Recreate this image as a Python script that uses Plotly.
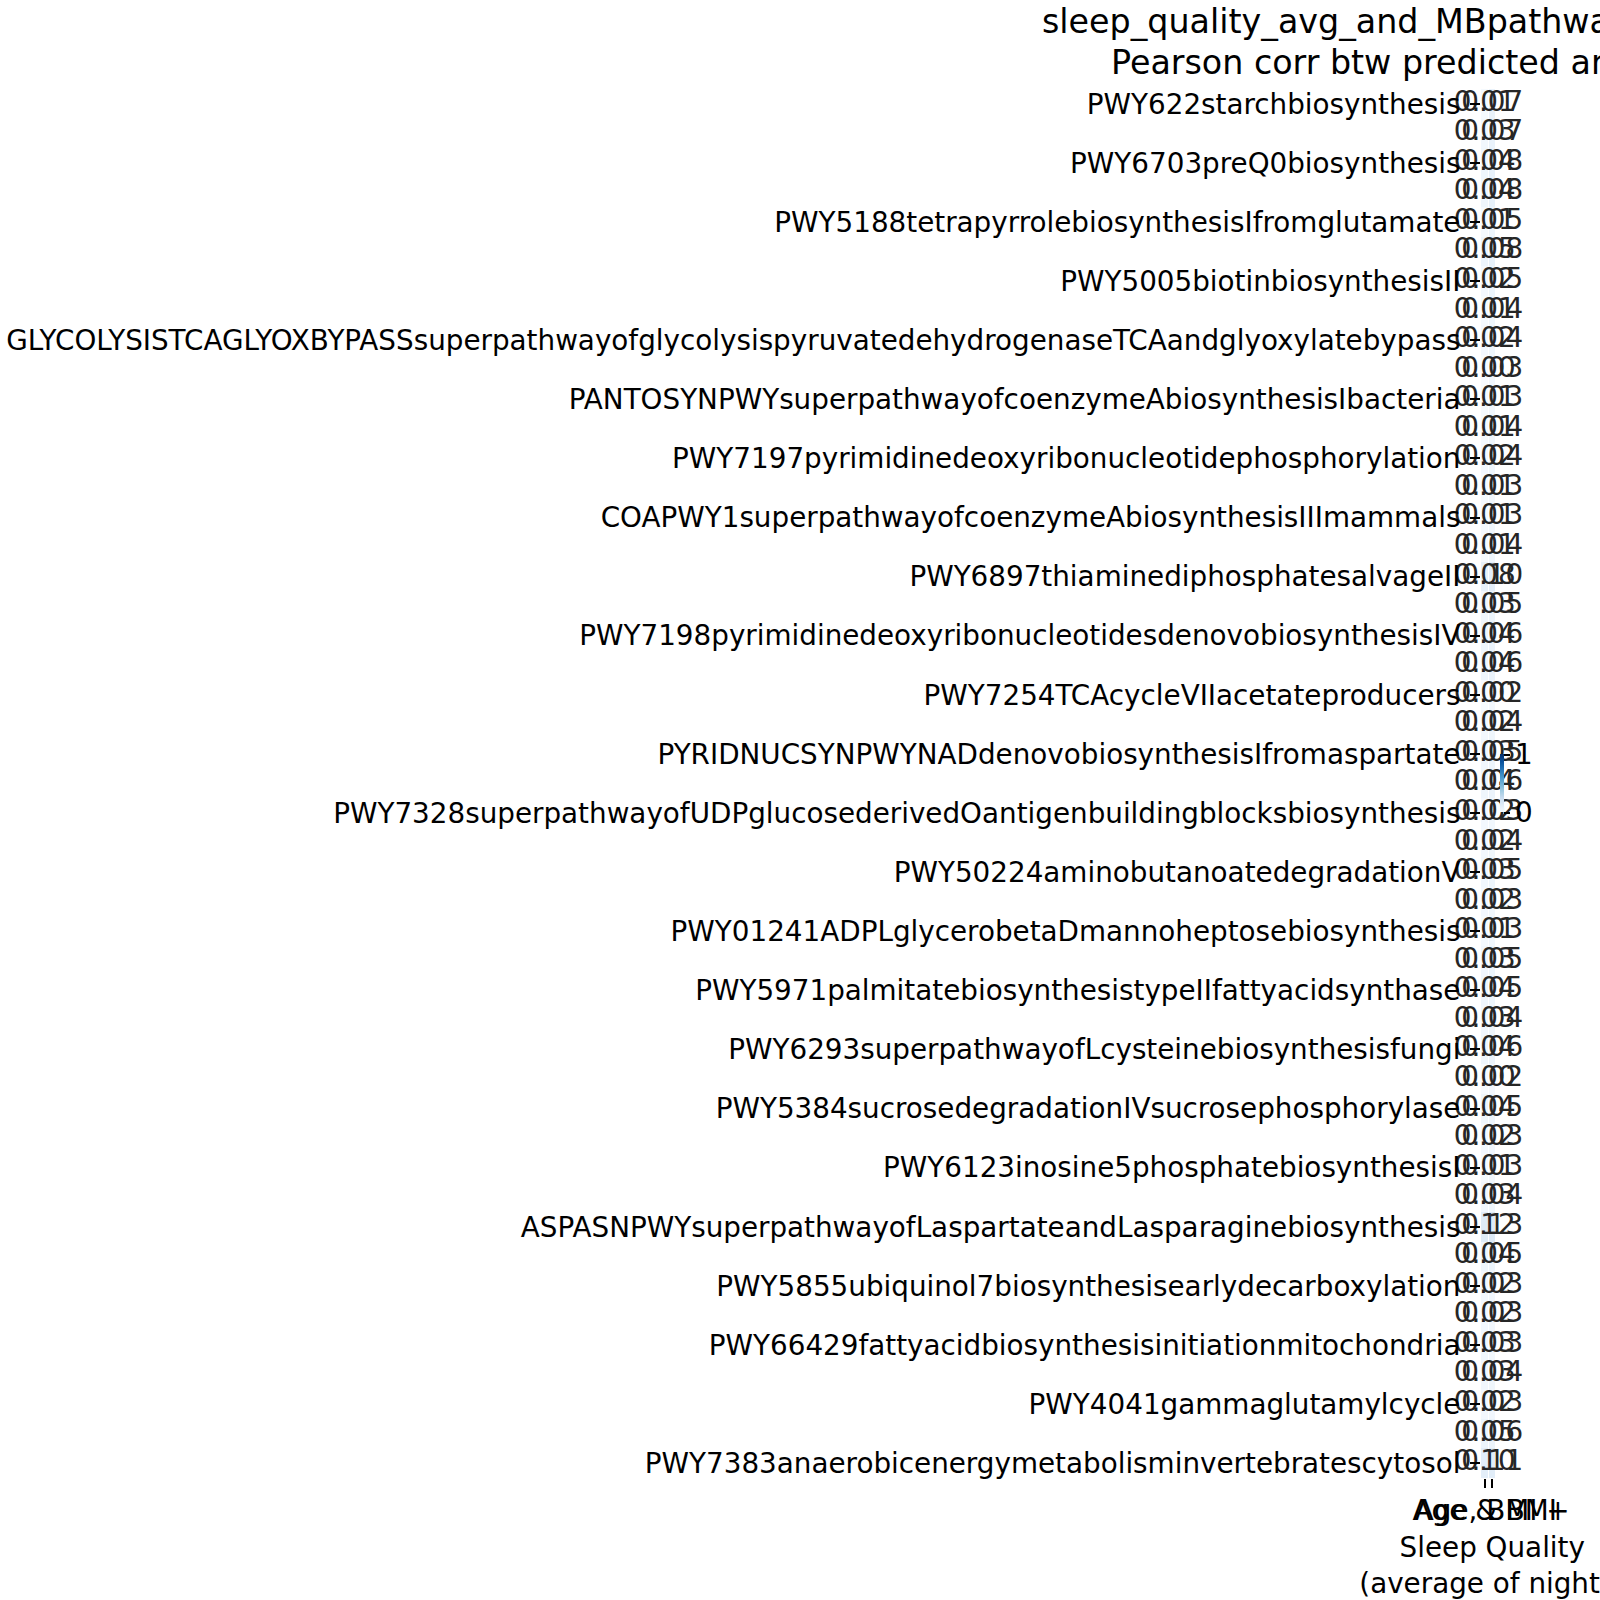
import plotly.graph_objects as go

# ---------------- data ----------------
model_labels = [
    "Age & BMI",
    "Age, BMI +<br>Sleep Quality<br>(average of nights)",
]

# 47 rows; only every other row label is displayed in the reference
row_labels = [
    "PWY622starchbiosynthesis", "",
    "PWY6703preQ0biosynthesis", "",
    "PWY5188tetrapyrrolebiosynthesisIfromglutamate", "",
    "PWY5005biotinbiosynthesisII", "",
    "GLYCOLYSISTCAGLYOXBYPASSsuperpathwayofglycolysispyruvatedehydrogenaseTCAandglyoxylatebypass", "",
    "PANTOSYNPWYsuperpathwayofcoenzymeAbiosynthesisIbacteria", "",
    "PWY7197pyrimidinedeoxyribonucleotidephosphorylation", "",
    "COAPWY1superpathwayofcoenzymeAbiosynthesisIIImammals", "",
    "PWY6897thiaminediphosphatesalvageII", "",
    "PWY7198pyrimidinedeoxyribonucleotidesdenovobiosynthesisIV", "",
    "PWY7254TCAcycleVIIacetateproducers", "",
    "PYRIDNUCSYNPWYNADdenovobiosynthesisIfromaspartate", "",
    "PWY7328superpathwayofUDPglucosederivedOantigenbuildingblocksbiosynthesis", "",
    "PWY50224aminobutanoatedegradationV", "",
    "PWY01241ADPLglycerobetaDmannoheptosebiosynthesis", "",
    "PWY5971palmitatebiosynthesistypeIIfattyacidsynthase", "",
    "PWY6293superpathwayofLcysteinebiosynthesisfungi", "",
    "PWY5384sucrosedegradationIVsucrosephosphorylase", "",
    "PWY6123inosine5phosphatebiosynthesisI", "",
    "ASPASNPWYsuperpathwayofLaspartateandLasparaginebiosynthesis", "",
    "PWY5855ubiquinol7biosynthesisearlydecarboxylation", "",
    "PWY66429fattyacidbiosynthesisinitiationmitochondria", "",
    "PWY4041gammaglutamylcycle", "",
    "PWY7383anaerobicenergymetabolisminvertebratescytosol",
]

corr_base = [
    0.01, 0.03, 0.04, 0.04, 0.01, 0.05, 0.02, 0.01, 0.02, 0.00,
    0.01, 0.01, 0.02, 0.01, 0.01, 0.01, 0.08, 0.03, 0.04, 0.04,
    0.00, 0.02, 0.03, 0.04, 0.02, 0.02, 0.03, 0.02, 0.01, 0.03,
    0.04, 0.03, 0.04, 0.00, 0.04, 0.02, 0.01, 0.03, 0.12, 0.04,
    0.02, 0.02, 0.03, 0.03, 0.02, 0.05, 0.10,
]
corr_sleep = [
    0.07, 0.07, 0.08, 0.08, 0.05, 0.08, 0.05, 0.04, 0.04, 0.03,
    0.03, 0.04, 0.04, 0.03, 0.03, 0.04, 0.10, 0.05, 0.06, 0.06,
    0.02, 0.04, 0.05, 0.06, 0.03, 0.04, 0.05, 0.03, 0.03, 0.05,
    0.05, 0.04, 0.06, 0.02, 0.05, 0.03, 0.03, 0.04, 0.13, 0.05,
    0.03, 0.03, 0.03, 0.04, 0.03, 0.06, 0.11,
]

title_line1 = "sleep_quality_avg_and_MBpathways"
title_line2 = "Pearson corr btw predicted and actual values"

blues = ["#f7fbff", "#deebf7", "#c6dbef", "#9ecae1", "#6baed6",
         "#4292c6", "#2171b5", "#08519c", "#08306b"]

# ---------------- layout geometry ----------------
W, H = 1600, 1600
L, R, T, B = 1481, 104, 89, 122
plot_w = W - L - R
plot_h = H - T - B
FONT = "DejaVu Sans"
FS = 27.8

n_rows = len(row_labels)
rows = list(range(n_rows))
cols = list(range(len(model_labels)))
z = [[corr_base[i], corr_sleep[i]] for i in rows]

fig = go.Figure()
fig.add_trace(go.Heatmap(
    z=z, x=cols, y=rows,
    zmin=0, zmax=1,
    colorscale=[[i / (len(blues) - 1), c] for i, c in enumerate(blues)],
    xgap=1,
    hoverinfo="skip",
    colorbar=dict(
        thickness=4, thicknessmode="pixels",
        len=58, lenmode="pixels",
        x=(1500 - L) / plot_w, xanchor="left", xref="paper", xpad=0,
        y=0.5, yanchor="middle", ypad=0,
        outlinewidth=0,
        tickvals=[0, 1], ticktext=["0", "1"],
        ticks="outside", ticklen=6, tickwidth=2, tickcolor="black",
        tickfont=dict(family=FONT, size=FS, color="black"),
    ),
))

# cell annotations
tx, ty, tt = [], [], []
for i in rows:
    for j, v in enumerate(z[i]):
        tx.append(j)
        ty.append(i)
        tt.append(f"{v:.2f}")
fig.add_trace(go.Scatter(
    x=tx, y=ty, text=tt, mode="text",
    textposition="middle center",
    textfont=dict(family=FONT, size=FS, color="#262626"),
    cliponaxis=False, hoverinfo="skip", showlegend=False,
))

tick_rows = [i for i, lab in enumerate(row_labels) if lab]
fig.update_yaxes(
    autorange=False, range=[n_rows - 0.5, -0.5],
    tickmode="array", tickvals=tick_rows,
    ticktext=[row_labels[i] for i in tick_rows],
    ticks="outside", ticklen=10, tickwidth=2, tickcolor="black",
    ticklabelstandoff=4, ticklabeloverflow="allow",
    tickfont=dict(family=FONT, size=FS, color="black"),
    showgrid=False, zeroline=False, showline=False, automargin=False,
)
fig.update_xaxes(
    range=[-0.5, len(model_labels) - 0.5],
    tickmode="array", tickvals=cols, ticktext=model_labels,
    ticks="outside", ticklen=9, tickwidth=2, tickcolor="black",
    ticklabelstandoff=-1, tickangle=0, ticklabeloverflow="allow",
    tickfont=dict(family=FONT, size=FS, color="black"),
    showgrid=False, zeroline=False, showline=False, automargin=False,
)

def px_to_paper_x(px):
    return (px - L) / plot_w

def px_to_paper_y(py):
    return (H - B - py) / plot_h

fig.add_annotation(text=title_line1, xref="paper", yref="paper",
                   x=px_to_paper_x(1040), y=px_to_paper_y(22), xanchor="left", yanchor="middle",
                   showarrow=False, font=dict(family=FONT, size=33.3, color="black"))
fig.add_annotation(text=title_line2, xref="paper", yref="paper",
                   x=px_to_paper_x(1109), y=px_to_paper_y(62), xanchor="left", yanchor="middle",
                   showarrow=False, font=dict(family=FONT, size=33.3, color="black"))

fig.update_layout(
    width=W, height=H,
    margin=dict(l=L, r=R, t=T, b=B, pad=0),
    paper_bgcolor="white", plot_bgcolor="white",
    font=dict(family=FONT, color="black"),
    showlegend=False,
)

fig.write_html("out.html")
